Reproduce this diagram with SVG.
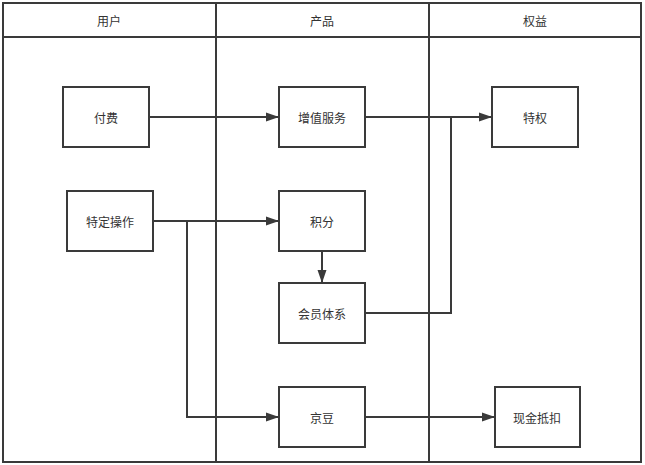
<svg xmlns="http://www.w3.org/2000/svg" width="645" height="465" viewBox="0 0 645 465">
<style>
.frame{fill:none;stroke:#3a3a3a;stroke-width:2}
.box{fill:#fff;stroke:#3a3a3a;stroke-width:2}
.edge{fill:none;stroke:#3a3a3a;stroke-width:2}
.t{font-family:"Noto Sans CJK SC","Liberation Sans",sans-serif;font-size:12px;fill:#333;text-anchor:middle;dominant-baseline:central}
</style>
<defs>
<marker id="arr" markerUnits="userSpaceOnUse" markerWidth="14" markerHeight="10" refX="13" refY="5" orient="auto">
<path d="M0,0.5 L13,5 L0,9.5 Z" fill="#3a3a3a"/>
</marker>
</defs>
<rect x="0" y="0" width="645" height="465" fill="#fff"/>
<g id="lanes">
<rect class="frame" x="3" y="3" width="638" height="459"/>
<line class="frame" x1="3" y1="37" x2="641" y2="37"/>
<line class="frame" x1="216" y1="3" x2="216" y2="462"/>
<line class="frame" x1="429" y1="3" x2="429" y2="462"/>
<text class="t" x="109" y="20">用户</text>
<text class="t" x="322" y="20">产品</text>
<text class="t" x="535" y="20">权益</text>
</g>
<g id="connectors">
<line class="edge" x1="149" y1="117" x2="279" y2="117" marker-end="url(#arr)"/>
<line class="edge" x1="365" y1="117" x2="492" y2="117" marker-end="url(#arr)"/>
<polyline class="edge" points="365,313 451,313 451,117"/>
<line class="edge" x1="153" y1="221" x2="279" y2="221" marker-end="url(#arr)"/>
<polyline class="edge" points="187,221 187,417 279,417" marker-end="url(#arr)"/>
<line class="edge" x1="322" y1="251" x2="322" y2="283" marker-end="url(#arr)"/>
<line class="edge" x1="365" y1="417" x2="495" y2="417" marker-end="url(#arr)"/>
</g>
<g id="n-pay"><rect class="box" x="63" y="87" width="86" height="60"/><text class="t" x="106" y="117">付费</text></g>
<g id="n-vas"><rect class="box" x="279" y="87" width="86" height="60"/><text class="t" x="322" y="117">增值服务</text></g>
<g id="n-priv"><rect class="box" x="492" y="87" width="86" height="60"/><text class="t" x="535" y="117">特权</text></g>
<g id="n-op"><rect class="box" x="67" y="191" width="86" height="60"/><text class="t" x="110" y="221">特定操作</text></g>
<g id="n-points"><rect class="box" x="279" y="191" width="86" height="60"/><text class="t" x="322" y="221">积分</text></g>
<g id="n-member"><rect class="box" x="279" y="283" width="86" height="60"/><text class="t" x="322" y="313">会员体系</text></g>
<g id="n-jd"><rect class="box" x="279" y="387" width="86" height="60"/><text class="t" x="322" y="417">京豆</text></g>
<g id="n-cash"><rect class="box" x="495" y="387" width="85" height="60"/><text class="t" x="537" y="417">现金抵扣</text></g>
</svg>
